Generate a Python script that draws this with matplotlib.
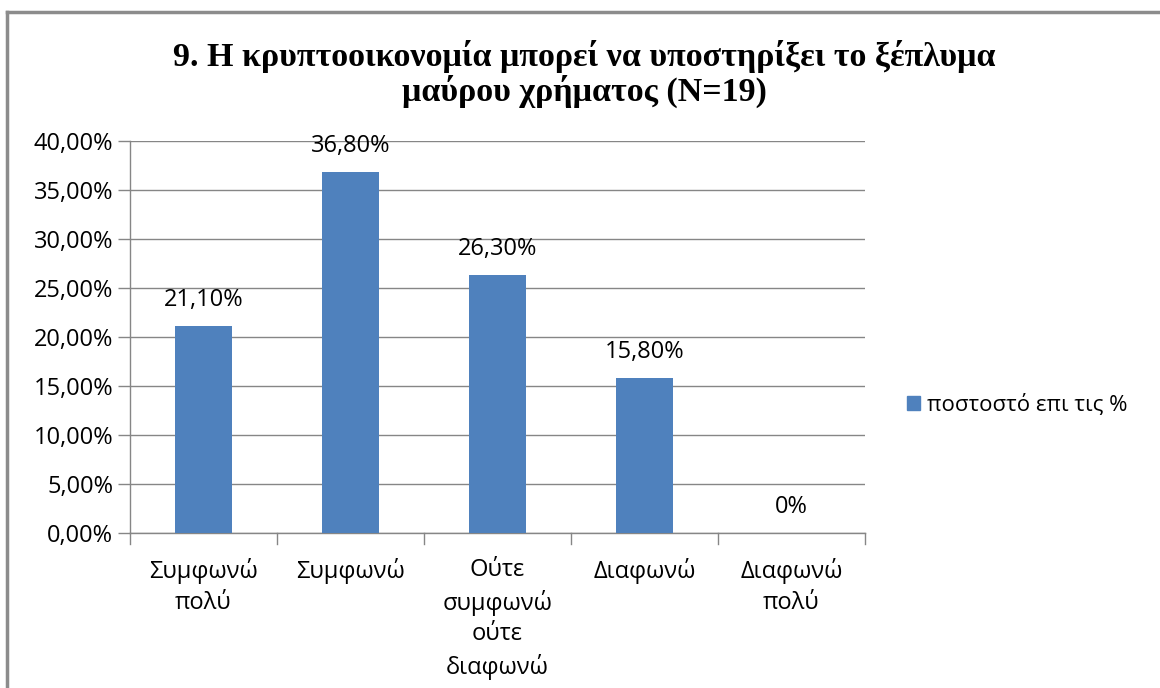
import matplotlib
matplotlib.use("Agg")
import matplotlib.pyplot as plt
from matplotlib.patches import Patch
from matplotlib.lines import Line2D

categories = ["Συμφωνώ\nπολύ", "Συμφωνώ", "Ούτε\nσυμφωνώ\nούτε\nδιαφωνώ", "Διαφωνώ", "Διαφωνώ\nπολύ"]
values = [21.1, 36.8, 26.3, 15.8, 0.0]
value_labels = ["21,10%", "36,80%", "26,30%", "15,80%", "0%"]
yticks = [0, 5, 10, 15, 20, 25, 30, 35, 40]
ytick_labels = ["0,00%", "5,00%", "10,00%", "15,00%", "20,00%", "25,00%", "30,00%", "35,00%", "40,00%"]
title = "9. Η κρυπτοοικονομία μπορεί να υποστηρίξει το ξέπλυμα\nμαύρου χρήματος (N=19)"
series_name = "ποστοστό επι τις %"

BAR = "#4F81BD"
GRID = "#868686"
TXT = "#000000"
FONT = ["Open Sans", "DejaVu Sans"]
FS = 17

fig = plt.figure(figsize=(11.6, 6.88), dpi=100)
fig.patch.set_facecolor("white")

# outer chart frame (top and left edges visible)
fig.add_artist(Line2D([7/1160, 1.0], [1 - 12/688, 1 - 12/688], transform=fig.transFigure,
                      color="#8c8c8c", linewidth=2.5))
fig.add_artist(Line2D([7/1160, 7/1160], [0, 1 - 12/688], transform=fig.transFigure,
                      color="#8c8c8c", linewidth=2.5))

ax = fig.add_axes([130/1160, 1 - 533/688, (865 - 130)/1160, (533 - 141)/688])
x = list(range(len(categories)))
ax.bar(x, values, width=0.39, color=BAR, zorder=3, label=series_name)

ax.set_xlim(-0.5, len(categories) - 0.5)
ax.set_ylim(0, 40)
ax.set_yticks(yticks)
ax.set_yticklabels(ytick_labels, fontsize=FS, family=FONT, color=TXT)
ax.yaxis.grid(True, color=GRID, linewidth=1, zorder=0)
ax.set_xticks(x)
ax.set_xticklabels(categories, fontsize=FS, family=FONT, color=TXT, linespacing=1.38)
ax.tick_params(axis="x", length=0, pad=18)
ax.tick_params(axis="y", length=9, color=GRID, width=1, pad=3)

# category boundary ticks
for b in [i - 0.5 for i in range(len(categories) + 1)]:
    ax.plot([b, b], [0, -0.028], transform=ax.get_xaxis_transform(), color=GRID,
            linewidth=1, clip_on=False, zorder=4)
for spine in ["top", "right"]:
    ax.spines[spine].set_visible(False)
for spine in ["left", "bottom"]:
    ax.spines[spine].set_color(GRID)
    ax.spines[spine].set_linewidth(1)

for xi, v, lab in zip(x, values, value_labels):
    ax.annotate(lab, (xi, v), xytext=(0, 10), textcoords="offset points",
                ha="center", va="bottom", fontsize=FS, family=FONT, color=TXT)

fig.text(0.504, 1 - 74/688, title, ha="center", va="center", fontsize=24.5,
         fontweight="bold", family=["Liberation Serif", "DejaVu Serif"], color=TXT,
         linespacing=1.05)

fig.legend(handles=[Patch(facecolor=BAR, edgecolor=BAR)], labels=[series_name],
           loc="center left", bbox_to_anchor=(907/1160, 1 - 405/688), frameon=False,
           prop={"family": FONT, "size": 16}, handlelength=0.6, handleheight=0.6,
           handletextpad=0.3, borderpad=0, borderaxespad=0)

fig.savefig("out.png", dpi=100, facecolor="white")
